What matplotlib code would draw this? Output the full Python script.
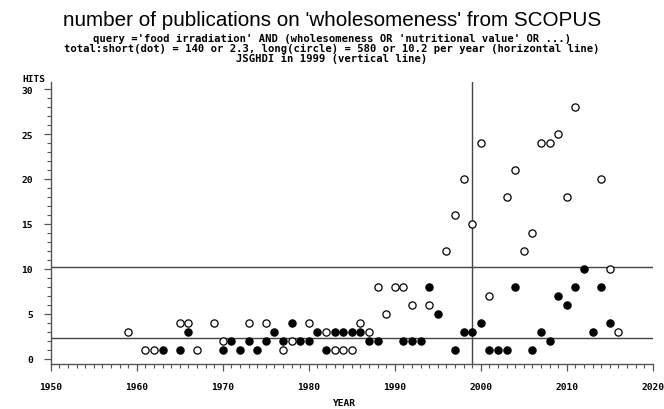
import matplotlib
matplotlib.use("Agg")
import matplotlib.pyplot as plt
from matplotlib.ticker import MultipleLocator

# long publications (open circles)
long_years = [1959, 1961, 1962, 1965, 1966, 1967, 1969, 1970, 1973, 1975, 1977, 1978,
              1980, 1982, 1983, 1984, 1985, 1986, 1987, 1988, 1989, 1990, 1991, 1992,
              1994, 1996, 1997, 1998, 1999, 2000, 2001, 2003, 2004, 2005, 2006, 2007,
              2008, 2009, 2010, 2011, 2014, 2015, 2016]
long_hits = [3, 1, 1, 4, 4, 1, 4, 2, 4, 4, 1, 2,
             4, 3, 1, 1, 1, 4, 3, 8, 5, 8, 8, 6,
             6, 12, 16, 20, 15, 24, 7, 18, 21, 12, 14, 24,
             24, 25, 18, 28, 20, 10, 3]

# short publications (filled dots)
short_years = [1963, 1965, 1966, 1970, 1971, 1972, 1973, 1974, 1975, 1976, 1977, 1978,
               1979, 1980, 1981, 1982, 1983, 1984, 1985, 1986, 1987, 1988, 1991, 1992,
               1993, 1994, 1995, 1997, 1998, 1999, 2000, 2001, 2002, 2003, 2004, 2006,
               2007, 2008, 2009, 2010, 2011, 2012, 2013, 2014, 2015]
short_hits = [1, 1, 3, 1, 2, 1, 2, 1, 2, 3, 2, 4,
              2, 2, 3, 1, 3, 3, 3, 3, 2, 2, 2, 2,
              2, 8, 5, 1, 3, 3, 4, 1, 1, 1, 8, 1,
              3, 2, 7, 6, 8, 10, 3, 8, 4]

short_mean = 2.3
long_mean = 10.2
jsghdi_year = 1999

title = "number of publications on 'wholesomeness' from SCOPUS"
sub1 = "query ='food irradiation' AND (wholesomeness OR 'nutritional value' OR ...)"
sub2 = "total:short(dot) = 140 or 2.3, long(circle) = 580 or 10.2 per year (horizontal line)"
sub3 = "JSGHDI in 1999 (vertical line)"

W, H = 664, 410
fig = plt.figure(figsize=(W / 100, H / 100), dpi=100)
ax = fig.add_axes([50.7 / W, 1 - 365 / H, 602 / W, 282 / H])

mono = dict(family="DejaVu Sans Mono", weight="bold")

ax.axhline(short_mean, color="#444444", lw=1.0, zorder=1)
ax.axhline(long_mean, color="#444444", lw=1.0, zorder=1)
ax.axvline(jsghdi_year, color="#444444", lw=1.0, zorder=1)

ax.plot(long_years, long_hits, "o", ms=5.2, mfc="white", mec="black", mew=0.9, zorder=3)
ax.plot(short_years, short_hits, "o", ms=5.2, mfc="black", mec="black", mew=0.9, zorder=3)

ax.set_xlim(1950, 2020)
ax.set_ylim(-0.56, 30.78)
ax.spines["top"].set_visible(False)
ax.spines["right"].set_visible(False)
for s in ("left", "bottom"):
    ax.spines[s].set_color("#555555")
    ax.spines[s].set_linewidth(1.0)

ax.xaxis.set_major_locator(MultipleLocator(10))
ax.xaxis.set_minor_locator(MultipleLocator(1))
ax.yaxis.set_major_locator(MultipleLocator(5))
ax.yaxis.set_minor_locator(MultipleLocator(1))
ax.tick_params(which="major", direction="out", length=5, width=0.9, color="#555555")
ax.tick_params(which="minor", direction="out", length=3, width=0.8, color="#555555")
ax.tick_params(axis="x", pad=8)
ax.tick_params(axis="y", pad=8)
for lab in ax.get_xticklabels() + ax.get_yticklabels():
    lab.set_fontfamily("DejaVu Sans Mono")
    lab.set_fontweight("bold")
    lab.set_fontsize(6.8)

fig.text(0.5, 1 - 21 / H, title, ha="center", va="center",
         family="Liberation Sans", fontsize=14.9)
fig.text(0.5, 1 - 39 / H, sub1, ha="center", va="center", fontsize=7.6, **mono)
fig.text(0.5, 1 - 49 / H, sub2, ha="center", va="center", fontsize=7.6, **mono)
fig.text(0.5, 1 - 59 / H, sub3, ha="center", va="center", fontsize=7.6, **mono)

fig.text(22 / W, 1 - 80 / H, "HITS", ha="left", va="center", fontsize=6.8, **mono)
fig.text(344 / W, 1 - 404 / H, "YEAR", ha="center", va="center", fontsize=6.8, **mono)

fig.savefig("out.png", dpi=100)
